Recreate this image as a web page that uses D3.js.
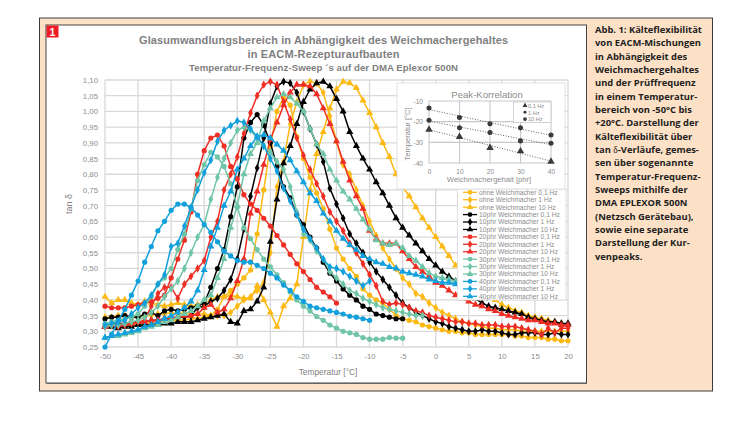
<!DOCTYPE html>
<html>
<head>
<meta charset="utf-8">
<script src="https://cdn.jsdelivr.net/npm/d3@7"></script>
<style>
  html, body { margin: 0; padding: 0; background: #fff; }
  svg { display: block; }
  text { font-family: "Liberation Sans", Arial, sans-serif; }
  .axis path, .axis line { stroke: none; }
  .grid line { stroke: #d9d9d9; stroke-width: 1.3; }
  .caption { font-family: "Open Sans", sans-serif; font-weight: 700; font-size: 9.4px; fill: #222; }
</style>
</head>
<body>
<svg id="chart" width="751" height="423"></svg>
<script>
// every series starts at -50 degC, one value per degree, length gives the end
var ohne01 = [.315,.315,.32,.32,.32,.325,.325,.325,.33,.33,.335,.335,.335,.34,.34,.345,.35,.37,.41,.43,.45,.47,.495,.61,.75,.89,1.0,1.045,1.02,.92,.85,.79,.74,.69,.625,.565,.53,.50,.475,.435,.415,.40,.39,.37,.35,.34,.335,.33,.32,.315,.31,.305,.30,.30,.295,.295,.29,.29,.29,.29,.29,.29,.285,.285,.28,.28,.28,.275,.275,.27,.27];
var ohne1 = [.345,.345,.35,.35,.35,.345,.35,.35,.355,.355,.36,.355,.36,.355,.355,.355,.35,.35,.35,.36,.38,.40,.41,.43,.455,.55,.76,.84,.96,1.03,1.085,1.095,1.09,1.06,.985,.905,.83,.80,.75,.70,.65,.605,.565,.53,.50,.47,.45,.42,.41,.39,.375,.36,.35,.34,.33,.325,.32,.315,.31,.31,.305,.305,.305,.30,.30,.30,.30,.30,.30,.30,.30];
var ohne10 = [.41,.39,.40,.40,.39,.385,.395,.39,.385,.38,.385,.39,.385,.38,.385,.39,.40,.41,.41,.415,.41,.405,.405,.445,.40,.36,.315,.38,.405,.45,.60,.75,.865,.935,1.01,1.07,1.095,1.09,1.075,1.035,.995,.95,.90,.855,.80,.76,.73,.695,.66,.63,.60,.57,.54,.51,.495,.475,.45,.43,.415,.40,.385,.375,.365,.36,.35,.345,.34,.335,.33,.325,.32];
var phr10_01 = [.34,.345,.345,.35,.345,.345,.355,.36,.35,.365,.37,.365,.37,.375,.38,.39,.44,.50,.56,.665,.76,.915,.965,.99,.955,.90,.825,.76,.725,.67,.64,.60,.565,.52,.485,.46,.435,.415,.40,.38,.37,.355,.35,.345,.34,.34];
var phr10_1 = [.32,.32,.325,.325,.33,.33,.33,.335,.335,.34,.34,.345,.345,.35,.375,.38,.395,.405,.43,.465,.53,.625,.73,.82,.915,1.025,1.08,1.095,1.09,1.06,1.0,.945,.895,.84,.755,.705,.66,.61,.58,.55,.52,.49,.465,.44,.415,.39,.375,.36,.35,.34,.33,.325,.315,.31,.305,.30,.30,.305,.30,.30,.295,.29,.29,.295,.295,.295,.29,.29,.295,.29,.29];
var phr10_10 = [.315,.315,.31,.315,.315,.32,.32,.32,.32,.325,.325,.33,.33,.33,.335,.34,.345,.35,.355,.33,.325,.365,.37,.395,.44,.585,.72,.835,.89,.96,1.03,1.07,1.09,1.095,1.08,1.04,1.0,.935,.89,.85,.815,.775,.74,.70,.66,.63,.605,.58,.555,.53,.51,.49,.475,.46,.44,.425,.405,.39,.38,.375,.37,.365,.36,.355,.345,.34,.335,.33,.33,.325,.325];
var phr20_01 = [.38,.375,.375,.375,.38,.385,.39,.395,.405,.415,.47,.53,.59,.68,.80,.875,.915,.925,.89,.825,.785,.735,.705,.685,.66,.635,.605,.575,.545,.515,.49,.465,.44,.425,.41,.39];
var phr20_1 = [.315,.32,.315,.32,.325,.33,.335,.38,.42,.44,.44,.405,.45,.475,.50,.525,.60,.65,.75,.80,.855,.93,.995,1.05,1.085,1.095,1.085,1.03,.975,.915,.86,.815,.77,.73,.68,.65,.62,.58,.55,.515,.48,.445,.395,.385,.39,.385,.375,.365,.36,.35,.345,.34,.335,.33,.33,.325,.325,.32,.32,.32,.315,.315,.315,.31,.305,.30,.29,.31,.295,.31,.31];
var phr20_10 = [.315,.32,.32,.325,.325,.33,.33,.335,.335,.34,.345,.345,.35,.35,.355,.375,.385,.36,.37,.405,.46,.53,.675,.745,.83,.91,.965,1.02,1.06,1.085,1.085,1.08,1.055,1.01,.96,.905,.84,.78,.73,.69,.62,.595,.58,.58,.58,.555,.53,.505,.49,.475,.455,.445,.43,.415,.405,.395,.385,.38,.37,.365,.355,.35,.345,.34,.335,.335,.33,.325,.325,.32,.32];
var phr30_01 = [.325,.33,.335,.34,.345,.355,.38,.41,.45,.47,.50,.56,.61,.69,.78,.83,.87,.855,.825,.77,.695,.63,.595,.56,.53,.505,.48,.455,.425,.40,.38,.365,.347,.335,.32,.31,.30,.295,.29,.28,.275,.275,.275,.28,.278,.278];
var phr30_1 = [.315,.32,.32,.325,.33,.335,.345,.36,.38,.41,.435,.46,.50,.55,.60,.64,.72,.79,.85,.90,.94,.95,.94,.915,.89,.87,.84,.815,.76,.68,.61,.59,.555,.53,.49,.47,.45,.43,.42,.405,.395,.385,.375,.37,.365,.36,.355,.35,.35];
var phr30_10 = [.28,.285,.285,.29,.295,.30,.31,.315,.32,.33,.335,.345,.355,.365,.38,.40,.415,.47,.53,.63,.70,.80,.865,.90,.97,1.01,1.045,1.055,1.045,1.025,1.0,.945,.895,.865,.815,.78,.745,.72,.69,.655,.625,.59,.58,.575,.58,.565,.54,.525,.505,.485,.475,.47,.465,.46];
var phr40_01 = [.25,.29,.335,.37,.415,.46,.52,.57,.62,.65,.685,.705,.705,.695,.67,.64,.615,.585,.555,.54,.525,.52,.52,.51,.50,.485,.47,.447,.43,.41,.395,.38,.375,.37,.365,.36,.355,.348,.345,.34,.335];
var phr40_1 = [.32,.325,.33,.335,.355,.375,.39,.415,.45,.48,.57,.58,.635,.695,.75,.805,.845,.905,.94,.955,.97,.965,.945,.92,.89,.85,.81,.755,.715,.67,.625,.595,.565,.53,.505,.50,.49,.475,.46,.445,.46];
var phr40_10 = [.28,.285,.29,.295,.30,.305,.315,.32,.33,.34,.35,.36,.375,.395,.43,.495,.57,.63,.70,.745,.815,.85,.89,.92,.925,.915,.895,.875,.845,.81,.775,.74,.715,.675,.65,.62,.595,.575,.56,.54,.53,.52,.515,.505,.50,.49,.485,.48,.475,.465,.46,.455,.455,.45];

var seriesNames = [
  "ohne Weichmacher 0,1 Hz", "ohne Weichmacher 1 Hz", "ohne Weichmacher 10 Hz",
  "10phr Weichmacher 0,1 Hz", "10phr Weichmacher 1 Hz", "10phr Weichmacher 10 Hz",
  "20phr Weichmacher 0,1 Hz", "20phr Weichmacher 1 Hz", "20phr Weichmacher 10 Hz",
  "30phr Weichmacher 0,1 Hz", "30phr Weichmacher 1 Hz", "30phr Weichmacher 10 Hz",
  "40phr Weichmacher 0,1 Hz", "40phr Weichmacher 1 Hz", "40phr Weichmacher 10 Hz"
];
var seriesValues = [ohne01, ohne1, ohne10, phr10_01, phr10_1, phr10_10, phr20_01, phr20_1, phr20_10, phr30_01, phr30_1, phr30_10, phr40_01, phr40_1, phr40_10];
var familyColors = ["#fdb913", "#000000", "#ee2e24", "#6fc5a5", "#12a0dc"];

var yTicks = d3.range(5, 23).map(function(d) { return d * 0.05; });
var xTicks = d3.range(-50, 21, 5);

// inset: peak temperature against plasticizer content
var phr = [0, 10, 20, 30, 40];
var peak01 = [-23.8, -27.3, -32.7, -34.3, -39.3];
var peak1 = [-19.3, -22.9, -25.2, -29.3, -30.4];
var peak10 = [-13.4, -18, -21, -23, -26.5];
var peakNames = ["0,1 Hz", "1 Hz", "10 Hz"];

var captionLines = [
  "Abb. 1: Kälteflexibilität", "von EACM-Mischungen", "in Abhängigkeit des", "Weichmachergehaltes",
  "und der Prüffrequenz", "in einem Temperatur-", "bereich von -50°C bis", "+20°C. Darstellung der",
  "Kälteflexibilität über", "tan δ-Verläufe, gemes-", "sen über sogenannte", "Temperatur-Frequenz-",
  "Sweeps mithilfe der", "DMA EPLEXOR 500N", "(Netzsch Gerätebau),", "sowie eine separate",
  "Darstellung der Kur-", "venpeaks."
];

var svg = d3.select("#chart");

// frame
svg.append("rect").attr("x", 39.5).attr("y", 18).attr("width", 673).attr("height", 373)
  .attr("fill", "#fde1c6").attr("stroke", "#3d3d3d").attr("stroke-width", 1);
svg.append("rect").attr("x", 47).attr("y", 26).attr("width", 540).attr("height", 358).attr("fill", "#8a8a8a");
svg.append("rect").attr("x", 46).attr("y", 25).attr("width", 540.5).attr("height", 358)
  .attr("fill", "#fff").attr("stroke", "#333").attr("stroke-width", 0.9);
svg.append("rect").attr("x", 46.5).attr("y", 25.5).attr("width", 12).attr("height", 12).attr("fill", "#ee1c25");
svg.append("text").attr("x", 52.5).attr("y", 35.5).attr("text-anchor", "middle")
  .attr("font-size", 10.5).attr("font-weight", 700).attr("fill", "#fff").text("1");

// titles
var titles = [
  { t: "Glasumwandlungsbereich in Abhängigkeit des Weichmachergehaltes", y: 44, s: 11, len: 369 },
  { t: "in EACM-Rezepturaufbauten", y: 58, s: 11, len: 152 },
  { t: "Temperatur-Frequenz-Sweep ´s auf der DMA Eplexor 500N", y: 71, s: 9.6, len: 269 }
];
svg.selectAll(".title").data(titles).enter().append("text").attr("class", "title")
  .attr("x", 323.5).attr("y", function(d) { return d.y; })
  .attr("text-anchor", "middle").attr("font-weight", 700).attr("fill", "#7f7f7f")
  .attr("font-size", function(d) { return d.s; })
  .attr("textLength", function(d) { return d.len; }).attr("lengthAdjust", "spacing")
  .text(function(d) { return d.t; });

// main plot
var x = d3.scaleLinear().domain([-50, 20]).range([105, 568]);
var y = d3.scaleLinear().domain([0.25, 1.10]).range([347, 80]);

svg.append("g").attr("class", "grid").selectAll("line").data(xTicks).enter().append("line")
  .attr("x1", x).attr("x2", x).attr("y1", y(1.10)).attr("y2", y(0.25));
svg.append("g").attr("class", "grid").selectAll("line").data(yTicks).enter().append("line")
  .attr("x1", x(-50)).attr("x2", x(20)).attr("y1", y).attr("y2", y);

var commaFormat = function(d) { return d3.format(".2f")(d).replace(".", ","); };
var xAxis = d3.axisBottom(x).tickValues(xTicks).tickSize(0).tickPadding(6).tickFormat(String);
var yAxis = d3.axisLeft(y).tickValues(yTicks).tickSize(0).tickPadding(7).tickFormat(commaFormat);
svg.append("g").attr("class", "axis").attr("transform", "translate(0,347)").call(xAxis);
svg.append("g").attr("class", "axis").attr("transform", "translate(105,0)").call(yAxis);
svg.selectAll(".axis text").attr("font-size", 7.8).attr("font-family", "Liberation Sans").attr("fill", "#8c8c8c");

svg.append("text").attr("x", 328).attr("y", 375).attr("text-anchor", "middle")
  .attr("font-size", 8.4).attr("fill", "#7f7f7f").text("Temperatur [°C]");
svg.append("text").attr("transform", "translate(72,204) rotate(-90)").attr("text-anchor", "middle")
  .attr("font-size", 9).attr("fill", "#7f7f7f").text("tan δ");

function markerPath(kind, size) {
  var type = kind == 0 ? d3.symbolCircle : kind == 1 ? d3.symbolDiamond : d3.symbolTriangle;
  return d3.symbol().type(type).size(size)();
}

var line = d3.line()
  .x(function(d, i) { return x(-50 + i); })
  .y(function(d) { return y(d); });

seriesValues.forEach(function(values, n) {
  var color = familyColors[Math.floor(n / 3)];
  var kind = n % 3;
  var g = svg.append("g").attr("class", "series");
  g.append("path").attr("d", line(values)).attr("fill", "none").attr("stroke", color).attr("stroke-width", 1.5);
  g.selectAll("path.mark").data(values).enter().append("path").attr("class", "mark")
    .attr("d", markerPath(kind, kind == 0 ? 21 : kind == 1 ? 20 : 22))
    .attr("fill", color)
    .attr("transform", function(d, i) { return "translate(" + x(-50 + i) + "," + y(d) + ")"; });
});

// legend, sits on top of the curves
var legendY = d3.scaleLinear().domain([0, 14]).range([192.3, 296.3]);
svg.append("rect").attr("x", 457.5).attr("y", 189).attr("width", 108.5).attr("height", 111)
  .attr("fill", "#fff").attr("stroke", "#d9d9d9").attr("stroke-width", 0.8);
var legend = svg.selectAll(".legend").data(seriesNames).enter().append("g").attr("class", "legend")
  .attr("transform", function(d, i) { return "translate(0," + legendY(i) + ")"; });
legend.append("line").attr("x1", 463).attr("x2", 477)
  .attr("stroke", function(d, i) { return familyColors[Math.floor(i / 3)]; }).attr("stroke-width", 1.3);
legend.append("path").attr("d", function(d, i) { return markerPath(i % 3, 18); })
  .attr("transform", "translate(470,0)")
  .attr("fill", function(d, i) { return familyColors[Math.floor(i / 3)]; });
legend.append("text").attr("x", 479).attr("y", 2.4).attr("font-size", 6.7).attr("fill", "#8c8c8c").text(String);

// inset
svg.append("rect").attr("x", 397).attr("y", 83).attr("width", 168).attr("height", 106)
  .attr("fill", "#fff").attr("stroke", "#d9d9d9").attr("stroke-width", 0.8);
var xInset = d3.scaleLinear().domain([0, 40]).range([429, 551]);
var yInset = d3.scaleLinear().domain([-40, -10]).range([163, 101]);
var insetGrid = svg.append("g").attr("class", "grid");
insetGrid.selectAll(".v").data(phr).enter().append("line").attr("class", "v")
  .attr("x1", xInset).attr("x2", xInset).attr("y1", 101).attr("y2", 163);
insetGrid.selectAll(".h").data([-40, -30, -20, -10]).enter().append("line").attr("class", "h")
  .attr("x1", 429).attr("x2", 551).attr("y1", yInset).attr("y2", yInset);
insetGrid.selectAll("line").style("stroke", "#c8c8c8").style("stroke-width", 1.1);

var xAxisInset = d3.axisBottom(xInset).tickValues(phr).tickSize(0).tickPadding(6).tickFormat(String);
var yAxisInset = d3.axisLeft(yInset).tickValues([-40, -30, -20, -10]).tickSize(0).tickPadding(6).tickFormat(String);
svg.append("g").attr("class", "axis inset").attr("transform", "translate(0,163)").call(xAxisInset);
svg.append("g").attr("class", "axis inset").attr("transform", "translate(429,0)").call(yAxisInset);
svg.selectAll(".inset text").attr("font-size", 6.6).attr("font-family", "Liberation Sans").attr("fill", "#8c8c8c");

svg.append("text").attr("x", 487).attr("y", 97.5).attr("text-anchor", "middle")
  .attr("font-size", 9.6).attr("fill", "#8c8c8c").text("Peak-Korrelation");
svg.append("text").attr("x", 489).attr("y", 182).attr("text-anchor", "middle")
  .attr("font-size", 7.6).attr("fill", "#8c8c8c").text("Weichmachergehalt [phr]");
svg.append("text").attr("transform", "translate(409.5,134) rotate(-90)").attr("text-anchor", "middle")
  .attr("font-size", 7.6).attr("fill", "#8c8c8c").text("Temperatur [°C]");

function fitLine(values) {
  var mx = d3.mean(phr), my = d3.mean(values);
  var slope = d3.sum(phr, function(p, i) { return (p - mx) * (values[i] - my); }) /
    d3.sum(phr, function(p) { return (p - mx) * (p - mx); });
  return function(p) { return my + slope * (p - mx); };
}

[peak01, peak1, peak10].forEach(function(values, n) {
  var fit = fitLine(values);
  svg.append("line").attr("x1", xInset(0)).attr("x2", xInset(40))
    .attr("y1", yInset(fit(0))).attr("y2", yInset(fit(40)))
    .attr("stroke", "#555").attr("stroke-width", 0.9).attr("stroke-dasharray", "1,1.6");
  svg.append("g").selectAll("path").data(values).enter().append("path")
    .attr("d", markerPath(n == 0 ? 2 : 0, n == 0 ? 24 : 20))
    .attr("fill", "#3a3a3a")
    .attr("transform", function(d, i) { return "translate(" + xInset(phr[i]) + "," + yInset(d) + ")"; });
});

// inset legend
svg.append("rect").attr("x", 513.5).attr("y", 102).attr("width", 37.5).attr("height", 20.5)
  .attr("fill", "#fff").attr("stroke", "#c8c8c8").attr("stroke-width", 0.8);
var peakLegend = svg.selectAll(".peaklegend").data(peakNames).enter().append("g").attr("class", "peaklegend")
  .attr("transform", function(d, i) { return "translate(0," + (105.5 + i * 6.8) + ")"; });
peakLegend.append("path").attr("d", function(d, i) { return markerPath(i == 0 ? 2 : 0, i == 1 ? 7 : 11); })
  .attr("transform", "translate(525,0)").attr("fill", "#3a3a3a");
peakLegend.append("text").attr("x", 528).attr("y", 2.2).attr("font-size", 5.6).attr("fill", "#8c8c8c").text(String);

// caption on the right
var caption = svg.append("g").selectAll("text").data(captionLines).enter().append("text")
  .attr("class", "caption")
  .attr("x", 595)
  .attr("y", function(d, i) { return 33 + i * 13.33; });
caption.each(function(d) {
  var parts = d.split("δ");
  var el = d3.select(this);
  el.append("tspan").text(parts[0]);
  if (parts.length > 1) {
    el.append("tspan").style("font-family", "Liberation Serif").style("font-weight", 400).text("δ");
    el.append("tspan").text(parts[1]);
  }
});
</script>
</body>
</html>
